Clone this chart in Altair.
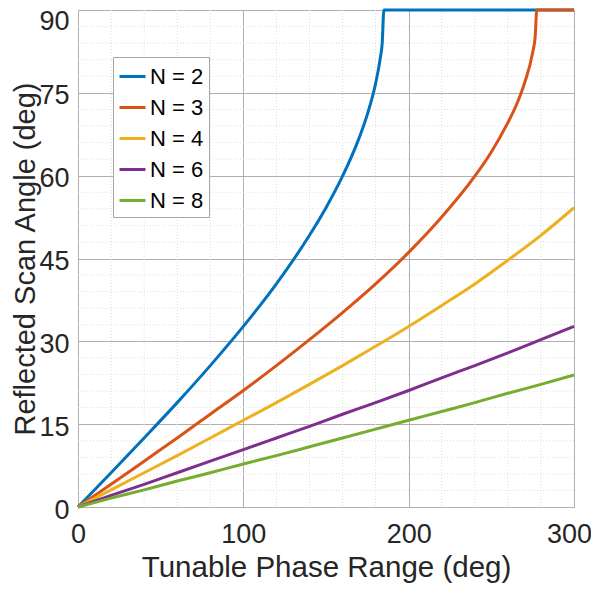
import altair as alt
import pandas as pd

# Values
phase_n2 = [0, 20, 40, 60, 80, 100, 120, 140, 150, 160, 170, 175, 180, 183, 184, 185, 300]
angle_n2 = [0, 6.2, 12.5, 18.9, 25.6, 32.7, 40.4, 49.2, 54.2, 59.9, 66.8, 71.1, 76.7, 81.6, 84.0, 90, 90]

phase_n3 = [0, 20, 40, 60, 80, 100, 120, 140, 160, 180, 200, 220, 240, 250, 260, 265, 270, 275, 276.5, 277.5, 300]
angle_n3 = [0, 4.1, 8.3, 12.5, 16.8, 21.1, 25.6, 30.3, 35.2, 40.4, 46.1, 52.5, 59.9, 64.3, 69.6, 72.7, 76.7, 82.3, 85.1, 90, 90]

phase_std = [0, 20, 40, 60, 80, 100, 120, 140, 160, 180, 200, 220, 240, 260, 280, 300]
angle_n4 = [0, 3.1, 6.2, 9.3, 12.5, 15.7, 18.9, 22.2, 25.6, 29.1, 32.7, 36.5, 40.4, 44.7, 49.2, 54.2]
angle_n6 = [0, 2.1, 4.1, 6.2, 8.3, 10.4, 12.5, 14.6, 16.8, 18.9, 21.1, 23.4, 25.6, 27.9, 30.3, 32.7]
angle_n8 = [0, 1.6, 3.1, 4.7, 6.2, 7.8, 9.3, 10.9, 12.5, 14.1, 15.7, 17.3, 18.9, 20.6, 22.2, 23.9]

series_names = ["N = 2", "N = 3", "N = 4", "N = 6", "N = 8"]
series_colors = ["#0072BD", "#D95319", "#EDB120", "#7E2F8E", "#77AC30"]

x_ticks = [0, 100, 200, 300]
y_ticks = [0, 15, 30, 45, 60, 75, 90]
x_minor = [20, 40, 60, 80, 120, 140, 160, 180, 220, 240, 260, 280]
y_minor = [3, 6, 9, 12, 18, 21, 24, 27, 33, 36, 39, 42, 48, 51, 54, 57, 63, 66, 69, 72, 78, 81, 84, 87]

rows = []
for name, xs, ys in [
    ("N = 2", phase_n2, angle_n2),
    ("N = 3", phase_n3, angle_n3),
    ("N = 4", phase_std, angle_n4),
    ("N = 6", phase_std, angle_n6),
    ("N = 8", phase_std, angle_n8),
]:
    for i, (a, b) in enumerate(zip(xs, ys)):
        rows.append({"series": name, "phase": a, "angle": b, "idx": i})
df = pd.DataFrame(rows)

FONT = "Liberation Sans"
xscale = alt.Scale(domain=[0, 300], nice=False, zero=False)
yscale = alt.Scale(domain=[0, 90], nice=False, zero=False)

minor_x = alt.Chart(pd.DataFrame({"v": x_minor})).mark_rule(
    color="#dedede", strokeWidth=1, strokeDash=[1, 2]
).encode(x=alt.X("v:Q", scale=xscale))

minor_y = alt.Chart(pd.DataFrame({"v": y_minor})).mark_rule(
    color="#dedede", strokeWidth=1, strokeDash=[1, 2]
).encode(y=alt.Y("v:Q", scale=yscale))

lines = alt.Chart(df).mark_line(strokeWidth=3, interpolate="monotone").encode(
    x=alt.X(
        "phase:Q",
        scale=xscale,
        axis=alt.Axis(
            values=x_ticks,
            title="Tunable Phase Range (deg)",
            grid=True,
            ticks=False,
            domain=False,
            labelFlush=False,
            labelPadding=14,
            labelOffset={"condition": {"test": "datum.value == 300", "value": -5}, "value": 0},
            titlePadding=6,
        ),
    ),
    y=alt.Y(
        "angle:Q",
        scale=yscale,
        axis=alt.Axis(
            values=y_ticks,
            title="Reflected Scan Angle (deg)",
            grid=True,
            ticks=False,
            domain=False,
            labelFlush=False,
            labelPadding=9,
            labelOffset={"condition": {"test": "datum.value == 90", "value": 11}, "value": 3},
            titlePadding=-2,
            titleFontSize=29,
        ),
    ),
    color=alt.Color(
        "series:N",
        scale=alt.Scale(domain=series_names, range=series_colors),
        legend=alt.Legend(
            title=None,
            orient="none",
            legendX=35,
            legendY=47,
            symbolType="stroke",
            symbolSize=676,
            symbolStrokeWidth=3,
            labelFontSize=22,
            labelFont=FONT,
            labelColor="#000000",
            labelOffset=3,
            rowPadding=5,
            padding=5,
            fillColor="#ffffff",
            strokeColor="#a6a6a6",
        ),
    ),
    order="idx:Q",
)

chart = (
    alt.layer(minor_x, minor_y, lines)
    .properties(
        width=496,
        height=497,
        autosize=alt.AutoSizeParams(type="none"),
        padding={"left": 70, "top": 2, "right": 17, "bottom": 76},
    )
    .configure_view(stroke="#a0a0a0", strokeWidth=1)
    .configure_axis(
        labelFont=FONT,
        labelFontSize=27,
        labelColor="#262626",
        titleFont=FONT,
        titleFontSize=29.5,
        titleFontWeight="normal",
        titleColor="#262626",
        gridColor="#b0b0b0",
        gridWidth=1,
    )
)

chart.save("out.html", embed_options={"renderer": "svg", "actions": False})
